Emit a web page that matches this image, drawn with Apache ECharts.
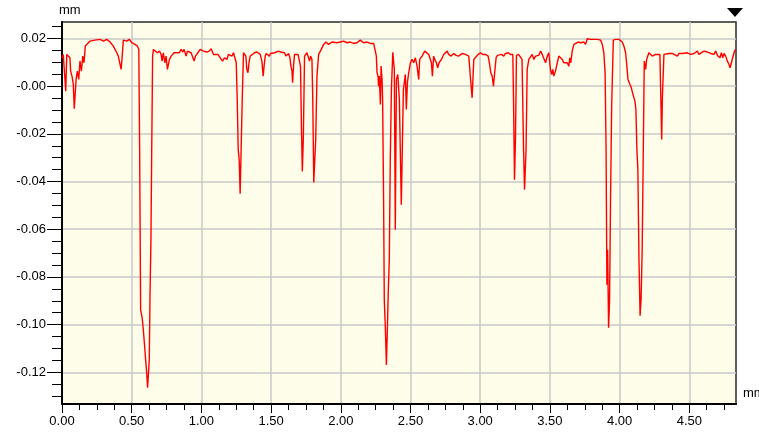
<!DOCTYPE html>
<html>
<head>
<meta charset="utf-8">
<script src="https://cdn.jsdelivr.net/npm/echarts@6/dist/echarts.min.js"></script>
<style>
  html, body { margin: 0; padding: 0; background: #ffffff; }
  #chart { width: 759px; height: 432px; }
</style>
</head>
<body>
<div id="chart"></div>
<script>
// Surface profile: position along the trace (mm) and measured height (mm)
const positionMm = [
  0.000,0.009,0.019,0.027,0.034,0.045,0.057,0.062,0.072,0.081,
  0.088,0.101,0.110,0.120,0.129,0.139,0.149,0.158,0.167,0.177,
  0.201,0.237,0.273,0.297,0.321,0.345,0.368,0.393,0.404,0.417,
  0.424,0.431,0.440,0.465,0.483,0.501,0.524,0.541,0.551,0.557,
  0.564,0.575,0.582,0.592,0.600,0.607,0.614,0.621,0.626,0.631,
  0.638,0.643,0.650,0.656,0.668,0.684,0.699,0.711,0.718,0.727,
  0.738,0.747,0.756,0.763,0.771,0.783,0.792,0.804,0.819,0.828,
  0.842,0.855,0.867,0.876,0.890,0.900,0.914,0.926,0.939,0.948,
  0.957,0.975,0.991,1.015,1.039,1.056,1.070,1.087,1.099,1.118,
  1.135,1.151,1.166,1.183,1.194,1.206,1.219,1.230,1.242,1.250,
  1.257,1.264,1.271,1.278,1.285,1.293,1.302,1.309,1.319,1.326,
  1.334,1.343,1.350,1.362,1.381,1.398,1.410,1.422,1.434,1.443,
  1.451,1.458,1.465,1.477,1.487,1.496,1.510,1.525,1.539,1.553,
  1.568,1.582,1.596,1.606,1.616,1.625,1.635,1.642,1.650,1.654,
  1.661,1.668,1.678,1.693,1.702,1.711,1.718,1.724,1.731,1.740,
  1.757,1.769,1.776,1.783,1.793,1.799,1.806,1.813,1.820,1.829,
  1.841,1.860,1.877,1.894,1.912,1.937,1.948,1.973,1.996,2.020,
  2.045,2.056,2.068,2.092,2.116,2.140,2.164,2.188,2.212,2.236,
  2.248,2.255,2.260,2.267,2.271,2.276,2.284,2.289,2.296,2.300,
  2.307,2.312,2.320,2.327,2.334,2.341,2.348,2.355,2.363,2.373,
  2.384,2.391,2.399,2.409,2.420,2.434,2.442,2.449,2.463,2.470,
  2.478,2.487,2.499,2.511,2.523,2.535,2.547,2.559,2.566,2.583,
  2.602,2.616,2.631,2.643,2.650,2.657,2.666,2.674,2.686,2.695,
  2.705,2.722,2.738,2.750,2.763,2.774,2.791,2.810,2.827,2.846,
  2.870,2.894,2.918,2.930,2.942,2.954,2.966,2.985,3.002,3.018,
  3.038,3.057,3.066,3.076,3.086,3.095,3.104,3.114,3.124,3.133,
  3.153,3.169,3.181,3.201,3.217,3.234,3.239,3.246,3.253,3.260,
  3.275,3.289,3.300,3.311,3.318,3.329,3.337,3.349,3.361,3.373,
  3.385,3.397,3.409,3.420,3.433,3.445,3.456,3.469,3.481,3.492,
  3.504,3.512,3.521,3.528,3.540,3.553,3.564,3.576,3.589,3.600,
  3.612,3.624,3.636,3.643,3.650,3.660,3.672,3.684,3.703,3.720,
  3.732,3.744,3.756,3.768,3.792,3.815,3.840,3.864,3.876,3.887,
  3.896,3.903,3.909,3.914,3.921,3.928,3.935,3.943,3.955,3.971,
  3.995,4.007,4.019,4.031,4.043,4.050,4.060,4.074,4.084,4.093,
  4.103,4.110,4.117,4.124,4.131,4.139,4.147,4.154,4.162,4.170,
  4.177,4.187,4.194,4.210,4.223,4.235,4.246,4.258,4.271,4.289,
  4.296,4.302,4.307,4.318,4.330,4.354,4.378,4.390,4.414,4.426,
  4.438,4.450,4.462,4.486,4.498,4.510,4.534,4.546,4.558,4.569,
  4.582,4.605,4.630,4.654,4.666,4.677,4.689,4.702,4.720,4.730,
  4.740,4.749,4.761,4.773,4.785,4.792,4.802,4.811,4.821,4.829
];

const heightMm = [
  0.0119,0.0133,0.0140,-0.0021,0.0133,0.0140,0.0119,0.0063,0.0041,0.0007,
  -0.0095,0.0028,0.0063,0.0028,0.0105,0.0063,0.0126,0.0098,0.0168,0.0175,
  0.0189,0.0193,0.0196,0.0189,0.0196,0.0185,0.0168,0.0140,0.0126,0.0133,
  0.0070,0.0119,0.0193,0.0189,0.0196,0.0182,0.0175,0.0168,0.0154,-0.0266,
  -0.0938,-0.0971,-0.1013,-0.1085,-0.1148,-0.1198,-0.1265,-0.1198,-0.1148,-0.0896,
  -0.0644,-0.0308,0.0125,0.0154,0.0154,0.0140,0.0147,0.0133,0.0105,0.0140,
  0.0098,0.0126,0.0070,0.0063,0.0112,0.0126,0.0133,0.0140,0.0140,0.0147,
  0.0140,0.0154,0.0143,0.0154,0.0126,0.0147,0.0154,0.0140,0.0147,0.0105,
  0.0126,0.0140,0.0154,0.0147,0.0143,0.0147,0.0157,0.0133,0.0126,0.0133,
  0.0119,0.0105,0.0119,0.0112,0.0133,0.0140,0.0126,0.0140,0.0133,0.0098,
  -0.0056,-0.0266,-0.0308,-0.0451,-0.0266,-0.0056,0.0140,0.0140,0.0126,0.0070,
  0.0056,0.0105,0.0126,0.0133,0.0140,0.0143,0.0140,0.0133,0.0105,0.0042,
  0.0091,0.0126,0.0137,0.0133,0.0126,0.0137,0.0133,0.0140,0.0137,0.0147,
  0.0143,0.0147,0.0140,0.0126,0.0119,0.0137,0.0119,0.0084,0.0063,0.0014,
  0.0084,0.0133,0.0137,0.0133,0.0126,0.0084,-0.0182,-0.0358,-0.0224,0.0126,
  0.0140,0.0137,0.0105,0.0126,0.0112,-0.0056,-0.0404,-0.0404,-0.0224,0.0042,
  0.0133,0.0154,0.0175,0.0185,0.0175,0.0185,0.0185,0.0182,0.0185,0.0189,
  0.0182,0.0175,0.0185,0.0179,0.0182,0.0193,0.0182,0.0185,0.0179,0.0179,
  0.0171,0.0126,0.0056,0.0042,0.0000,0.0042,-0.0077,0.0084,0.0028,-0.0056,
  -0.0476,-0.0896,-0.1022,-0.1169,-0.1022,-0.0854,-0.0728,-0.0308,-0.0014,0.0142,
  0.0070,-0.0602,0.0028,0.0049,-0.0056,-0.0497,-0.0497,-0.0014,0.0049,-0.0098,
  0.0016,0.0056,0.0098,0.0112,0.0098,0.0119,0.0084,0.0028,0.0112,0.0126,
  0.0147,0.0140,0.0133,0.0140,0.0098,0.0042,0.0126,0.0112,0.0098,0.0077,
  0.0098,0.0112,0.0133,0.0140,0.0147,0.0133,0.0126,0.0137,0.0129,0.0126,
  0.0137,0.0133,0.0126,0.0035,-0.0049,0.0112,0.0119,0.0133,0.0140,0.0133,
  0.0133,0.0126,0.0098,0.0056,0.0042,0.0000,0.0056,0.0119,0.0129,0.0133,
  0.0133,0.0126,0.0137,0.0140,0.0133,0.0133,-0.0056,-0.0392,-0.0224,0.0129,
  0.0133,0.0133,0.0112,-0.0266,-0.0434,-0.0266,0.0070,0.0112,0.0119,0.0133,
  0.0112,0.0126,0.0133,0.0129,0.0147,0.0133,0.0126,0.0098,0.0126,0.0140,
  0.0070,0.0049,0.0070,0.0042,0.0063,0.0098,0.0126,0.0133,0.0112,0.0098,
  0.0105,0.0098,0.0084,0.0119,0.0098,0.0147,0.0175,0.0182,0.0185,0.0182,
  0.0175,0.0185,0.0175,0.0199,0.0196,0.0196,0.0196,0.0193,0.0175,0.0140,
  0.0056,-0.0266,-0.0833,-0.0686,-0.1013,-0.0896,-0.0476,-0.0085,0.0193,0.0196,
  0.0196,0.0193,0.0185,0.0168,0.0140,0.0098,0.0028,0.0021,-0.0007,-0.0028,
  -0.0049,-0.0063,-0.0098,-0.0266,-0.0350,-0.0728,-0.0963,-0.0896,-0.0686,-0.0266,
  0.0105,0.0070,0.0112,0.0140,0.0133,0.0126,0.0119,0.0133,0.0133,0.0133,
  -0.0056,-0.0224,-0.0047,0.0133,0.0137,0.0137,0.0137,0.0133,0.0126,0.0137,
  0.0133,0.0137,0.0133,0.0140,0.0137,0.0133,0.0137,0.0140,0.0147,0.0133,
  0.0137,0.0147,0.0143,0.0137,0.0129,0.0133,0.0147,0.0129,0.0119,0.0140,
  0.0119,0.0137,0.0126,0.0105,0.0091,0.0077,0.0098,0.0119,0.0140,0.0154
];

// Axis extents and tick values (mm)
const positionRange = [0, 4.835];
const heightRange = [-0.1333, 0.0269];
const positionTicks = [0, 0.5, 1.0, 1.5, 2.0, 2.5, 3.0, 3.5, 4.0, 4.5];
const positionMinorTicks = [
  0, 0.125, 0.25, 0.375, 0.5, 0.625, 0.75, 0.875, 1.0, 1.125, 1.25, 1.375,
  1.5, 1.625, 1.75, 1.875, 2.0, 2.125, 2.25, 2.375, 2.5, 2.625, 2.75, 2.875,
  3.0, 3.125, 3.25, 3.375, 3.5, 3.625, 3.75, 3.875, 4.0, 4.125, 4.25, 4.375,
  4.5, 4.625, 4.75
];
const heightTicks = [-0.12, -0.10, -0.08, -0.06, -0.04, -0.02, 0, 0.02];
const heightMinorTicks = [
  -0.13, -0.125, -0.12, -0.115, -0.11, -0.105, -0.10, -0.095, -0.09, -0.085,
  -0.08, -0.075, -0.07, -0.065, -0.06, -0.055, -0.05, -0.045, -0.04, -0.035,
  -0.03, -0.025, -0.02, -0.015, -0.01, -0.005, 0, 0.005, 0.01, 0.015, 0.02, 0.025
];
const unitLabel = 'mm';

const profile = positionMm.map((x, i) => [x, heightMm[i]]);

const FONT = 'Liberation Sans';
const chart = echarts.init(document.getElementById('chart'), null, { renderer: 'canvas' });

chart.setOption({
  animation: false,
  backgroundColor: '#ffffff',
  grid: {
    left: 62, right: 23, top: 22, bottom: 28,
    outerBoundsMode: 'none',
    containLabel: false,
    show: true,
    backgroundColor: '#fdfde9',
    borderColor: '#2a2a2a',
    borderWidth: 1.5
  },
  xAxis: [
    {
      type: 'value',
      min: positionRange[0], max: positionRange[1],
      position: 'bottom',
      axisLine: { onZero: false, lineStyle: { color: '#000', width: 2 } },
      axisTick: { customValues: positionTicks, length: 9, lineStyle: { color: '#000', width: 1 } },
      axisLabel: {
        customValues: positionTicks,
        formatter: v => v.toFixed(2),
        color: '#000', fontFamily: FONT, fontSize: 13, margin: 11
      },
      splitLine: { show: true, lineStyle: { color: '#c8c8c8', width: 1.5 } },
      name: unitLabel,
      nameLocation: 'end',
      nameGap: 7,
      nameTextStyle: {
        color: '#000', fontFamily: FONT, fontSize: 13,
        align: 'left', verticalAlign: 'bottom', padding: [0, 0, 4, 0]
      }
    },
    {
      type: 'value',
      min: positionRange[0], max: positionRange[1],
      position: 'bottom',
      axisLine: { show: false, onZero: false },
      axisTick: { customValues: positionMinorTicks, length: 6, lineStyle: { color: '#000', width: 1 } },
      axisLabel: { show: false },
      splitLine: { show: false }
    }
  ],
  yAxis: [
    {
      type: 'value',
      min: heightRange[0], max: heightRange[1],
      position: 'left',
      axisLine: { show: true, onZero: false, lineStyle: { color: '#000', width: 2 } },
      axisTick: { customValues: heightTicks, length: 15, lineStyle: { color: '#000', width: 1 } },
      axisLabel: {
        customValues: heightTicks,
        formatter: v => (Math.abs(v) < 1e-9 ? '-0.00' : v.toFixed(2)),
        color: '#000', fontFamily: FONT, fontSize: 13, margin: 16
      },
      splitLine: { show: true, lineStyle: { color: '#c8c8c8', width: 1.5 } },
      name: unitLabel,
      nameLocation: 'end',
      nameGap: 5,
      nameTextStyle: {
        color: '#000', fontFamily: FONT, fontSize: 13,
        align: 'left', verticalAlign: 'bottom', padding: [0, 0, 0, -3]
      }
    },
    {
      type: 'value',
      min: heightRange[0], max: heightRange[1],
      position: 'left',
      axisLine: { show: false, onZero: false },
      axisTick: { customValues: heightMinorTicks, length: 10, lineStyle: { color: '#000', width: 1 } },
      axisLabel: { show: false },
      splitLine: { show: false }
    }
  ],
  graphic: [
    {
      // cursor marker above the right edge of the plot
      type: 'polygon',
      right: 16, top: 8,
      shape: { points: [[0, 0], [16, 0], [8, 9]] },
      style: { fill: '#000' }
    }
  ],
  series: [
    {
      type: 'line',
      xAxisIndex: 0,
      yAxisIndex: 0,
      data: profile,
      symbol: 'none',
      clip: true,
      lineStyle: { color: '#ff0000', width: 1.4 }
    }
  ]
});
</script>
</body>
</html>
